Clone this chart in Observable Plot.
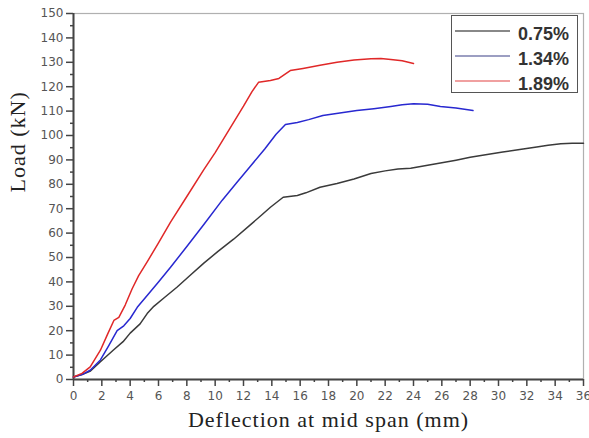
<!DOCTYPE html>
<html><head><meta charset="utf-8">
<script src="https://cdn.jsdelivr.net/npm/d3@7"></script>
<script src="https://cdn.jsdelivr.net/npm/@observablehq/plot@0.6"></script>
<style>
body{margin:0;background:#fff;}
#wrap{position:relative;width:589px;height:438px;overflow:hidden;}
#legend{position:absolute;left:451px;top:15px;width:127px;height:78px;border:1.5px solid #555;background:#fff;box-sizing:border-box;font-family:"Liberation Sans",Arial,sans-serif;font-weight:bold;font-size:18px;color:#333;}
#legend .row{position:absolute;left:0;height:22px;width:100%;line-height:22px;}
#legend .sw{position:absolute;left:3px;top:7px;width:55px;height:0;border-top:2px solid;}
#legend .lb{position:absolute;left:66px;top:0;}
.ttl text{letter-spacing:1px;}
</style></head><body>
<div id="wrap"></div>
<script>
const seriesNames = ["0.75%", "1.34%", "1.89%"];
const seriesColors = ["#3a3a3a", "#2828d0", "#e02828"];
const legendColors = ["#888888", "#9c9ec2", "#f0a0a0"];

const x075 = [0, 0.6, 1.2, 1.9, 2.8, 3.5, 4.0, 4.7, 5.2, 5.67, 6.4, 7.3, 8.2, 9.2, 10.2, 11.3, 12.5, 13.3, 13.9, 14.8, 15.8, 16.4, 17.4, 18.6, 19.8, 21.0, 22.0, 22.9, 23.8, 24.8, 25.7, 27.0, 28.0, 29.2, 30.3, 31.5, 32.7, 33.5, 34.4, 35.2, 36.0];
const y075 = [1, 2, 3.5, 7.3, 12, 15.5, 19, 22.8, 27, 30, 33.5, 37.8, 42.5, 47.7, 52.5, 57.5, 63.5, 67.5, 70.6, 74.7, 75.4, 76.5, 78.8, 80.3, 82.2, 84.4, 85.5, 86.3, 86.6, 87.6, 88.5, 89.9, 91.1, 92.2, 93.2, 94.3, 95.3, 96.0, 96.6, 96.8, 96.8];

const x134 = [0, 0.6, 1.18, 1.9, 2.5, 3.08, 3.55, 4.0, 4.5, 5.2, 6.0, 6.85, 8.0, 9.2, 10.5, 11.5, 12.5, 13.5, 14.3, 14.96, 15.8, 16.6, 17.6, 18.8, 20.0, 21.2, 22.4, 23.2, 24.0, 25.0, 25.9, 27.0, 28.2];
const y134 = [1, 2, 3.8, 8, 14, 20, 22, 25, 29.6, 34.4, 40, 46, 54.5, 63.5, 73.5, 80.5, 87.5, 94.5, 100.5, 104.5, 105.3, 106.5, 108.2, 109.2, 110.2, 111.0, 111.9, 112.6, 113.0, 112.8, 111.9, 111.3, 110.2];

const x189 = [0, 0.6, 1.18, 1.9, 2.4, 2.85, 3.2, 3.65, 4.14, 4.6, 5.2, 6.0, 6.85, 8.0, 9.2, 10.0, 11.0, 12.0, 12.6, 13.06, 13.9, 14.5, 15.3, 16.2, 17.4, 18.6, 19.8, 21.0, 21.7, 22.4, 23.2, 24.0];
const y189 = [1, 2.5, 5.2, 12, 18.5, 24.2, 25.5, 30.5, 37.2, 42.6, 48.2, 56, 64.5, 75, 86, 93, 102.5, 112, 118, 121.8, 122.5, 123.4, 126.6, 127.5, 128.8, 130, 130.9, 131.5, 131.6, 131.1, 130.6, 129.5];

const xs = [x075, x134, x189], ys = [y075, y134, y189];
const data = [];
xs.forEach((xx, i) => xx.forEach((v, j) => data.push({x: v, y: ys[i][j], s: seriesNames[i]})));

const xMajor = d3.range(0, 37, 2), xMinor = d3.range(1, 36, 2);
const yMajor = d3.range(0, 151, 10), yMinor = d3.range(5, 150, 10);

const tickFont = {fontFamily: "'DejaVu Sans', Verdana, sans-serif", fontSize: 12, fill: "#555"};
const titleFont = {fontFamily: "'Liberation Serif', 'Times New Roman', serif", fontSize: 22, fill: "#222"};

const chart = Plot.plot({
  width: 589, height: 438,
  marginLeft: 73, marginRight: 6, marginTop: 13, marginBottom: 59,
  style: {background: "#fff", overflow: "visible"},
  x: {domain: [0, 36]},
  y: {domain: [0, 150]},
  color: {domain: seriesNames, range: seriesColors},
  marks: [
    Plot.frame({stroke: "#b0b0b0", strokeWidth: 1.2}),
    Plot.axisX({ticks: xMinor, tickSize: 3, tickFormat: null, label: null, text: null, stroke: "#444", strokeWidth: 1.5}),
    Plot.axisX({ticks: xMajor, tickSize: 7, tickPadding: 5, tickFormat: d => d, label: null, stroke: "#444", strokeWidth: 1.5, ...tickFont}),
    Plot.axisY({ticks: yMinor, tickSize: 3, tickFormat: null, label: null, text: null, stroke: "#444", strokeWidth: 1.5}),
    Plot.axisY({ticks: yMajor, tickSize: 7, tickPadding: 3, tickFormat: d => d, label: null, stroke: "#444", strokeWidth: 1.5, ...tickFont}),
    Plot.ruleY([0], {stroke: "#444", strokeWidth: 2}),
    Plot.ruleX([0], {stroke: "#444", strokeWidth: 2}),
    Plot.line(data, {x: "x", y: "y", z: "s", stroke: "s", strokeWidth: 1.5, curve: "linear"}),
    Plot.text(["Deflection at mid span (mm)"], {frameAnchor: "bottom", dy: 47, className: "ttl", ...titleFont}),
    Plot.text(["Load (kN)"], {frameAnchor: "left", dx: -56, dy: -4, rotate: -90, className: "ttl", ...titleFont})
  ]
});
const wrap = document.getElementById("wrap");
wrap.appendChild(chart);

const leg = document.createElement("div");
leg.id = "legend";
seriesNames.forEach((n, i) => {
  const r = document.createElement("div");
  r.className = "row";
  r.style.top = (7 + i * 25) + "px";
  r.innerHTML = `<div class="sw" style="border-color:${legendColors[i]}"></div><div class="lb">${n}</div>`;
  leg.appendChild(r);
});
wrap.appendChild(leg);
</script>
</body></html>
